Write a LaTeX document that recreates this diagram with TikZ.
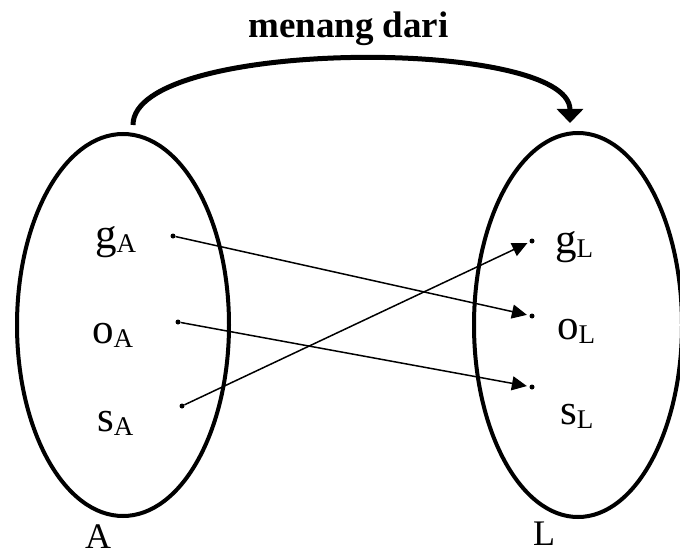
\documentclass[tikz,border=0pt]{standalone}
\usepackage{fontspec}
\setmainfont{Liberation Serif}
\usetikzlibrary{arrows.meta, shapes.geometric, positioning}

\begin{document}
\begin{tikzpicture}[
        x = 1pt, y = -1pt,
        set/.style = {draw, ellipse, line width = 4pt, inner sep = 0pt},
        elem/.style = {circle, fill, inner sep = 0pt, minimum size = 5pt},
        elemlabel/.style = {anchor = base west, inner sep = 0pt, font = \fontsize{43}{43}\selectfont},
        setlabel/.style = {anchor = base west, inner sep = 0pt, font = \fontsize{36}{36}\selectfont},
        link/.style = {line width = 1.5pt, shorten >= 2.5pt, -{Triangle[length = 15pt, width = 14pt]}},
        relation/.style = {line width = 5pt, -{Triangle[length = 14pt, width = 26pt]}}
    ]
        \useasboundingbox (0,0) rectangle (680,559);

        % the two sets
        \node[set, minimum width = 212pt, minimum height = 382pt] (setA) at (123,325) {};
        \node[set, minimum width = 208pt, minimum height = 384pt] (setL) at (578,325) {};
        \node[setlabel] (nameA) at (85,548) {A};
        \node[setlabel] (nameL) at (533,545) {L};

        % elements of A
        \node[elem] (gA) at (173,236) {};
        \node[elem] (oA) at (178,322) {};
        \node[elem] (sA) at (182,406) {};
        \node[elemlabel] (gAtext) at (95,248) {g\raisebox{-4pt}{\fontsize{27}{27}\selectfont A}};
        \node[elemlabel] (oAtext) at (92,343) {o\raisebox{-4pt}{\fontsize{27}{27}\selectfont A}};
        \node[elemlabel] (sAtext) at (97,431) {s\raisebox{-4pt}{\fontsize{27}{27}\selectfont A}};

        % elements of L
        \node[elem] (gL) at (532,241) {};
        \node[elem] (oL) at (532,316) {};
        \node[elem] (sL) at (532,387) {};
        \node[elemlabel] (gLtext) at (555,253) {g\raisebox{-4pt}{\fontsize{27}{27}\selectfont L}};
        \node[elemlabel] (oLtext) at (557,339) {o\raisebox{-4pt}{\fontsize{27}{27}\selectfont L}};
        \node[elemlabel] (sLtext) at (560,424) {s\raisebox{-4pt}{\fontsize{27}{27}\selectfont L}};

        \node[anchor = base west, inner sep = 0pt, font = \fontsize{37}{37}\selectfont\bfseries] (title) at (248,38) {menang dari};

        \coordinate (arcStart) at ([xshift = 10pt, yshift = 7pt] setA.north);
        \coordinate (arcEnd) at ([xshift = -8pt, yshift = 8pt] setL.north);

        \path[link]
          (gA) edge (oL)
          (oA) edge (sL)
          (sA) edge (gL);

        \draw[relation] (arcStart) .. controls +(0,-87) and +(0,-86) .. (arcEnd);
    \end{tikzpicture}
\end{document}
